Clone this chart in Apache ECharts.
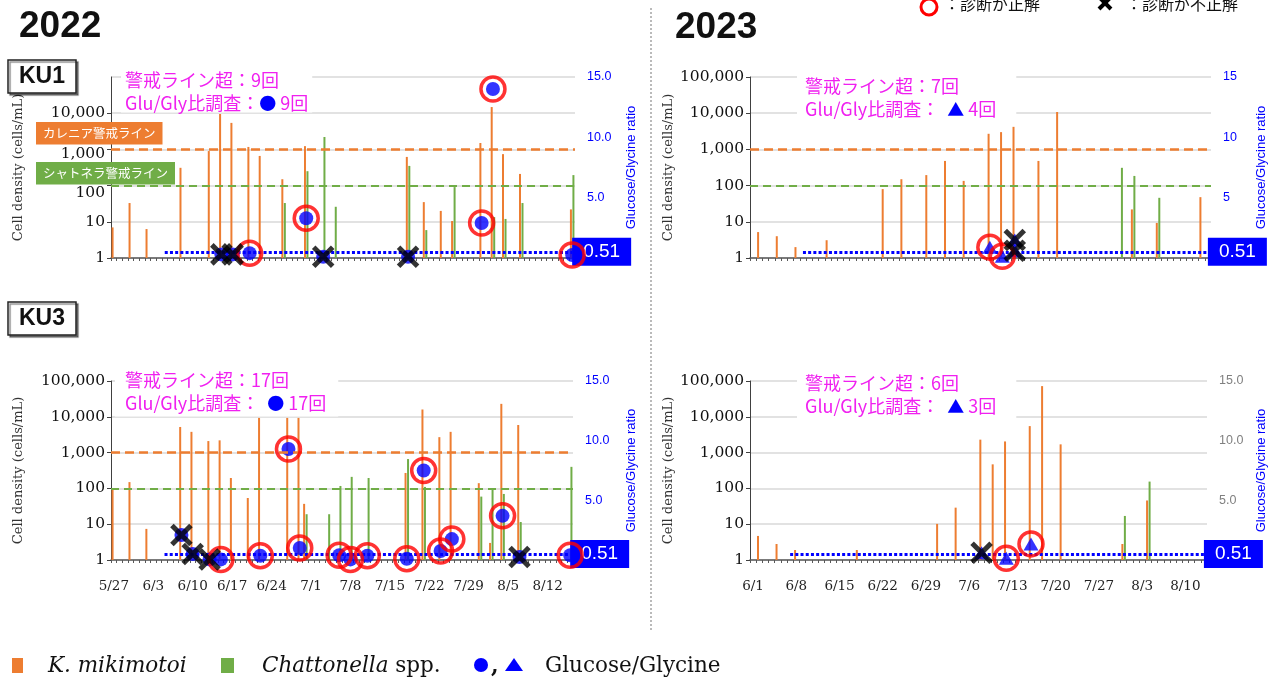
<!DOCTYPE html>
<html>
<head>
<meta charset="utf-8">
<script src="https://cdn.jsdelivr.net/npm/echarts@6/dist/echarts.min.js"></script>
<style>
  html, body { margin: 0; padding: 0; background: #fff; }
  #main { width: 1269px; height: 682px; }
</style>
</head>
<body>
<div id="main"></div>
<script>
// ---- Cell densities (cells/mL) by sampling date ----
// KU1, 2022
const ku1_2022_karenia = [['5/27',7],['5/30',33],['6/2',6.3],['6/8',310],['6/13',900],['6/15',9500],['6/17',5400],['6/20',1170],['6/22',660],['6/26',150],['6/30',1230],['7/18',620],['7/21',35],['7/24',20],['7/26',10.5],['7/31',1500],['8/2',14800],['8/4',740],['8/7',210],['8/16',22]];
const ku1_2022_chatt = [['6/26',33],['6/30',250],['7/3',2200],['7/5',26],['7/18',350],['7/21',5.9],['7/26',91],['8/2',13.5],['8/4',12],['8/7',33],['8/16',195]];
// KU1, 2023
const ku1_2023_karenia = [['6/2',5.2],['6/5',4.0],['6/8',2.0],['6/13',3.1],['6/22',80],['6/25',150],['6/29',195],['7/2',480],['7/5',135],['7/9',2700],['7/11',3000],['7/13',4200],['7/17',480],['7/20',10800],['8/1',22],['8/5',9.3],['8/12',48]];
const ku1_2023_chatt = [['7/30',310],['8/1',185],['8/5',46]];
// KU3, 2022
const ku3_2022_karenia = [['5/27',102],['5/30',150],['6/2',7.4],['6/8',5200],['6/10',3800],['6/13',2100],['6/15',2200],['6/17',195],['6/20',54],['6/22',9300],['6/27',9300],['6/29',9300],['6/30',37],['7/18',270],['7/21',16000],['7/24',2700],['7/26',3800],['7/31',140],['8/2',3],['8/4',23000],['8/7',5900]];
const ku3_2022_chatt = [['6/30',19],['7/4',19],['7/6',117],['7/8',210],['7/11',195],['7/18',660],['7/21',110],['7/31',59],['8/2',96],['8/4',70],['8/7',11.5],['8/16',400]];
// KU3, 2023
const ku3_2023_karenia = [['6/2',4.7],['6/5',2.8],['6/8',1.9],['6/18',1.9],['7/1',10.2],['7/4',29],['7/8',2300],['7/10',470],['7/12',2050],['7/16',5500],['7/18',72000],['7/21',1700],['7/31',2.8],['8/4',46]];
const ku3_2023_chatt = [['7/31',17],['8/4',155]];

// ---- Glucose/Glycine ratio and whether the diagnosis was right ----
const ku1_2022_ratio = [['6/15',0.3],['6/17',0.3],['6/20',0.4],['6/30',3.3],['7/3',0.1],['7/18',0.1],['7/31',2.9],['8/2',14.0],['8/16',0.25]];
const ku1_2022_correct = [false,false,true,true,false,false,true,true,true];
const ku1_2023_ratio = [['7/9',0.9],['7/11',0.15],['7/13',1.5],['7/13',0.6]];
const ku1_2023_correct = [true,true,false,false];
const ku3_2022_ratio = [['6/8',2.1],['6/10',0.5],['6/13',0.05],['6/15',0.05],['6/22',0.35],['6/27',9.3],['6/29',1.0],['7/6',0.4],['7/8',0.05],['7/11',0.35],['7/18',0.1],['7/21',7.5],['7/24',0.75],['7/26',1.75],['8/4',3.7],['8/7',0.25],['8/16',0.4]];
const ku3_2022_correct = [false,false,false,true,true,true,true,true,true,true,true,true,true,true,true,false,true];
const ku3_2023_ratio = [['7/8',0.6],['7/12',0.15],['7/16',1.35]];
const ku3_2023_correct = [false,true,true];

// Number of times the warning lines were exceeded (KU1 2022, KU1 2023, KU3 2022, KU3 2023)
const exceedCounts = [9, 7, 17, 6];

// Warning levels (cells/mL) and the ratio threshold
const KARENIA_WARN = 1000;
const CHATT_WARN = 100;
const RATIO_THRESHOLD = 0.51;

// ---- Axis categories: one per day ----
function dayLabels(y, m, d, n) {
  const out = [];
  for (let k = 0; k < n; k++) {
    const t = new Date(y, m - 1, d + k);
    out.push((t.getMonth() + 1) + '/' + t.getDate());
  }
  return out;
}
const days2022 = dayLabels(2022, 5, 27, 82);
const days2023 = dayLabels(2023, 6, 1, 74);

const ORANGE = '#ED7D31', GREEN = '#70AD47', BLUE = '#0000FF', RED = '#FF0000', MAGENTA = '#F020F0';
const SERIF = 'DejaVu Serif';
const JP = 'Noto Sans CJK JP';

const panels = [
  { grid: {left: 111, top: 77, width: 464, height: 181}, days: days2022, karenia: ku1_2022_karenia, chatt: ku1_2022_chatt,
    ratio: ku1_2022_ratio, correct: ku1_2022_correct, symbol: 'circle', showDates: false, warn: true, lineFrom: '6/5',
    ratioDigits: 1, ratioColor: BLUE, showTopY: false, showZero: false, gapL: 86, gapR: 50, nudgeLabels: true,
    note: {left: 121, top: 68, padding: [1, 4, 0, 4], sp: ''} },
  { grid: {left: 750, top: 77, width: 463, height: 181}, days: days2023, karenia: ku1_2023_karenia, chatt: ku1_2023_chatt,
    ratio: ku1_2023_ratio, correct: ku1_2023_correct, symbol: 'triangle', showDates: false, warn: true, lineFrom: '6/9',
    ratioDigits: 0, ratioColor: BLUE, showTopY: true, showZero: false, gapL: 75, gapR: 44, nudgeLabels: false,
    note: {left: 797, top: 70, padding: [5, 20, 5, 8], sp: '  '} },
  { grid: {left: 111, top: 381, width: 462, height: 179}, days: days2022, karenia: ku3_2022_karenia, chatt: ku3_2022_chatt,
    ratio: ku3_2022_ratio, correct: ku3_2022_correct, symbol: 'circle', showDates: true, warn: true, lineFrom: '6/5',
    ratioDigits: 1, ratioColor: BLUE, showTopY: true, showZero: false, gapL: 86, gapR: 52, nudgeLabels: false,
    note: {left: 115, top: 365, padding: [4, 12, 4, 10], sp: '  '} },
  { grid: {left: 750, top: 381, width: 460, height: 179}, days: days2023, karenia: ku3_2023_karenia, chatt: ku3_2023_chatt,
    ratio: ku3_2023_ratio, correct: ku3_2023_correct, symbol: 'triangle', showDates: true, warn: false, lineFrom: '6/7',
    ratioDigits: 1, ratioColor: '#808080', showTopY: true, showZero: true, gapL: 75, gapR: 48, nudgeLabels: false,
    note: {left: 797, top: 368, padding: [4, 20, 4, 8], sp: '  '} }
];

function withCommas(v) {
  return String(Math.round(v)).replace(/\B(?=(\d{3})+(?!\d))/g, ',');
}

const grids = [], xAxes = [], yAxes = [], series = [], titles = [];

panels.forEach((p, i) => {
  grids.push(p.grid);
  xAxes.push({
    type: 'category', gridIndex: i, data: p.days, boundaryGap: true,
    axisLine: {onZero: false, lineStyle: {color: '#595959', width: 1.5}},
    axisTick: {show: true, interval: 0, length: 3, lineStyle: {color: '#595959'}},
    axisLabel: {show: p.showDates, interval: (idx) => idx % 7 === 0, fontFamily: SERIF, fontSize: 13.5, color: '#222', margin: 19},
    splitLine: {show: false}
  });
  yAxes.push({
    type: 'log', logBase: 10, gridIndex: i, position: 'left', min: 1, max: 100000,
    axisLine: {show: true, lineStyle: {color: '#404040', width: 1}},
    axisTick: {show: true, length: 4, lineStyle: {color: '#404040'}},
    axisLabel: {
      // in the KU1 2022 panel the 1,000 and 100 labels sit just under the warning-line tags
      formatter: (v) => {
        const s = withCommas(v);
        if (p.nudgeLabels && Math.round(v) === 1000) return '{d5|' + s + '}';
        if (p.nudgeLabels && Math.round(v) === 100) return '{d7|' + s + '}';
        return s;
      },
      rich: {d5: {padding: [10, 0, 0, 0], fontFamily: SERIF, fontSize: 15.5, color: '#111'},
             d7: {padding: [14, 0, 0, 0], fontFamily: SERIF, fontSize: 15.5, color: '#111'}},
      fontFamily: SERIF, fontSize: 15.5, color: '#111', margin: 6, showMaxLabel: p.showTopY
    },
    splitLine: {show: true, lineStyle: {color: '#D9D9D9', width: 1.5}},
    name: 'Cell density (cells/mL)', nameLocation: 'middle', nameGap: p.gapL,
    nameTextStyle: {fontFamily: SERIF, fontSize: 13, color: '#333'}
  });
  yAxes.push({
    type: 'value', gridIndex: i, position: 'right', min: 0, max: 15, interval: 5,
    axisLine: {show: false}, axisTick: {show: false}, splitLine: {show: false},
    axisLabel: {color: p.ratioColor, fontFamily: 'Liberation Sans', fontSize: 12.5, margin: 12,
      formatter: (v) => v.toFixed(p.ratioDigits), showMinLabel: p.showZero},
    name: 'Glucose/Glycine ratio', nameLocation: 'middle', nameGap: p.gapR,
    nameTextStyle: {color: BLUE, fontFamily: 'Liberation Sans', fontSize: 13}
  });

  const warnLines = p.warn ? {
    silent: true, symbol: 'none', label: {show: false}, animation: false,
    data: [
      {yAxis: KARENIA_WARN, lineStyle: {color: ORANGE, type: [9, 5], width: 2.5}},
      {yAxis: CHATT_WARN, lineStyle: {color: GREEN, type: [8, 5], width: 1.8}}
    ]
  } : undefined;

  series.push({
    type: 'bar', xAxisIndex: i, yAxisIndex: 2 * i, data: p.karenia, barWidth: 2, barGap: '25%',
    itemStyle: {color: ORANGE}, markLine: warnLines, z: 2
  });
  series.push({
    type: 'bar', xAxisIndex: i, yAxisIndex: 2 * i, data: p.chatt, barWidth: 2, barGap: '25%',
    itemStyle: {color: GREEN}, z: 2
  });
  series.push({
    type: 'scatter', xAxisIndex: i, yAxisIndex: 2 * i + 1, data: p.ratio,
    symbol: p.symbol, symbolSize: p.symbol === 'circle' ? 14 : [15, 13],
    itemStyle: {color: BLUE}, z: 4,
    markLine: {
      silent: true, symbol: 'none', animation: false,
      lineStyle: {color: BLUE, width: 3, type: [3, 2.2]},
      label: {show: true, position: 'end', distance: 0, formatter: () => RATIO_THRESHOLD.toFixed(2),
        color: '#fff', backgroundColor: BLUE, fontSize: 19, fontFamily: 'Liberation Sans', padding: [5, 11, 4, 11]},
      data: [[{coord: [p.lineFrom, RATIO_THRESHOLD]}, {coord: [p.days[p.days.length - 1], RATIO_THRESHOLD]}]]
    }
  });
  series.push({
    type: 'scatter', xAxisIndex: i, yAxisIndex: 2 * i + 1,
    data: p.ratio.filter((_, k) => p.correct[k]),
    symbol: 'circle', symbolSize: 24,
    itemStyle: {color: 'rgba(0,0,0,0)', borderColor: RED, borderWidth: 3.5}, z: 5
  });
  series.push({
    type: 'scatter', xAxisIndex: i, yAxisIndex: 2 * i + 1,
    data: p.ratio.filter((_, k) => !p.correct[k]),
    symbol: 'path://M0,0L10,10M10,0L0,10', symbolSize: 19,
    itemStyle: {color: 'none', borderColor: '#000', borderWidth: 5}, z: 6
  });

  const mark = p.symbol === 'circle' ? '●' : '▲';
  titles.push({
    left: p.note.left, top: p.note.top, padding: p.note.padding, backgroundColor: '#fff',
    text: '{a|警戒ライン超：' + exceedCounts[i] + '回}\n{a|Glu/Gly比調査：' + p.note.sp + '}{b|' + mark + '}{a| ' + p.ratio.length + '回}',
    textStyle: {rich: {
      a: {fontFamily: JP, fontSize: 18, fontWeight: 'normal', color: MAGENTA, lineHeight: 23},
      b: {fontFamily: JP, fontSize: 17, fontWeight: 'normal', color: BLUE, lineHeight: 23}
    }}
  });
});

const boxStyle = {padding: [5, 11], borderColor: '#222', borderWidth: 1.5, backgroundColor: '#fff',
  shadowColor: 'rgba(0,0,0,0.45)', shadowOffsetX: 2, shadowOffsetY: 2, shadowBlur: 1};
titles.push(
  {text: '2022', left: 14, top: 3, textStyle: {fontSize: 37, fontWeight: 'bold', fontFamily: 'Liberation Sans', color: '#111'}},
  {text: '2023', left: 670, top: 4, textStyle: {fontSize: 37, fontWeight: 'bold', fontFamily: 'Liberation Sans', color: '#111'}},
  Object.assign({text: 'KU1', left: 8, top: 60, textStyle: {fontSize: 23, fontWeight: 'bold', fontFamily: 'Liberation Sans', color: '#111'}}, boxStyle),
  Object.assign({text: 'KU3', left: 8, top: 302, textStyle: {fontSize: 23, fontWeight: 'bold', fontFamily: 'Liberation Sans', color: '#111'}}, boxStyle),
  {text: 'カレニア警戒ライン', left: 36, top: 122, padding: [5, 7], backgroundColor: ORANGE,
    textStyle: {fontFamily: JP, fontSize: 12.5, fontWeight: 'normal', color: '#fff'}},
  {text: 'シャトネラ警戒ライン', left: 36, top: 162, padding: [5, 7], backgroundColor: GREEN,
    textStyle: {fontFamily: JP, fontSize: 12.5, fontWeight: 'normal', color: '#fff'}}
);

const graphics = [
  // divider between the two years
  {type: 'line', shape: {x1: 651, y1: 8, x2: 651, y2: 630}, style: {stroke: '#777', lineWidth: 1, lineDash: [2, 2]}, silent: true},
  // diagnosis key
  {type: 'circle', shape: {cx: 929, cy: 7, r: 8}, style: {fill: 'none', stroke: RED, lineWidth: 3}},
  {type: 'text', x: 944, y: 4, style: {text: '：診断が正解', font: '16px "Noto Sans CJK JP"', fill: '#111', verticalAlign: 'middle'}},
  {type: 'line', shape: {x1: 1099, y1: -3, x2: 1111, y2: 9}, style: {stroke: '#000', lineWidth: 4}},
  {type: 'line', shape: {x1: 1111, y1: -3, x2: 1099, y2: 9}, style: {stroke: '#000', lineWidth: 4}},
  {type: 'text', x: 1126, y: 4, style: {text: '：診断が不正解', font: '16px "Noto Sans CJK JP"', fill: '#111', verticalAlign: 'middle'}},
  // series key
  {type: 'rect', shape: {x: 12, y: 658, width: 11, height: 15}, style: {fill: ORANGE}},
  {type: 'text', x: 48, y: 666, style: {text: 'K. mikimotoi', font: 'italic 21.5px "DejaVu Serif"', fill: '#111', verticalAlign: 'middle'}},
  {type: 'rect', shape: {x: 221, y: 658, width: 13, height: 15}, style: {fill: GREEN}},
  {type: 'text', x: 262, y: 666, style: {
    text: '{i|Chattonella}{n| spp.}', verticalAlign: 'middle',
    rich: {i: {font: 'italic 21.5px "DejaVu Serif"', fill: '#111'}, n: {font: '21.5px "DejaVu Serif"', fill: '#111'}}
  }},
  {type: 'circle', shape: {cx: 481, cy: 665, r: 7}, style: {fill: BLUE}},
  {type: 'text', x: 491, y: 667, style: {text: ',', font: 'bold 22px "DejaVu Serif"', fill: '#111', verticalAlign: 'middle'}},
  {type: 'polygon', shape: {points: [[514, 658], [523, 671], [505, 671]]}, style: {fill: BLUE}},
  {type: 'text', x: 545, y: 666, style: {text: 'Glucose/Glycine', font: '21.5px "DejaVu Serif"', fill: '#111', verticalAlign: 'middle'}}
];

const chart = echarts.init(document.getElementById('main'));
chart.setOption({
  animation: false,
  backgroundColor: '#fff',
  title: titles,
  grid: grids,
  xAxis: xAxes,
  yAxis: yAxes,
  series: series,
  graphic: graphics
});
</script>
</body>
</html>
